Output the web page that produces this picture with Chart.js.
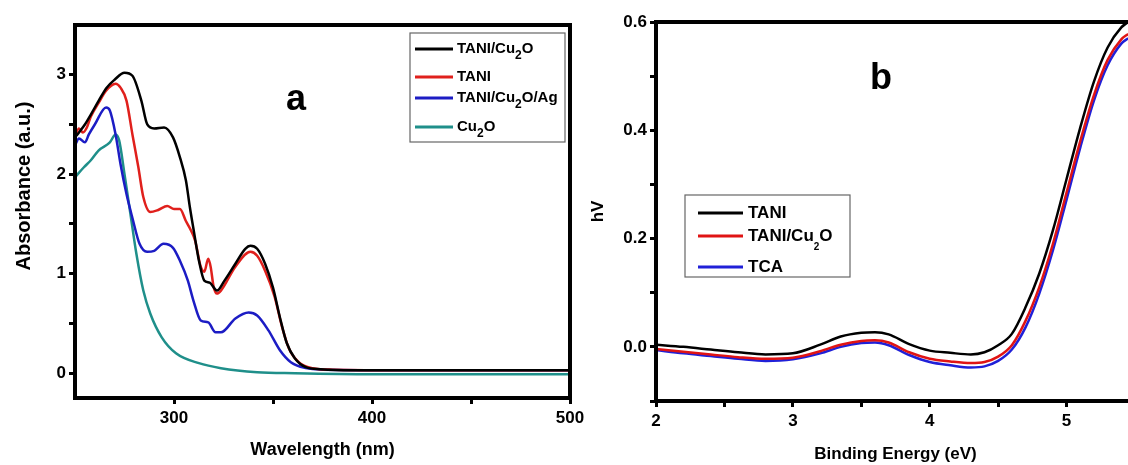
<!DOCTYPE html>
<html>
<head>
<meta charset="utf-8">
<script src="https://cdn.jsdelivr.net/npm/chart.js@4.4.0/dist/chart.umd.min.js"></script>
<style>
  html, body { margin: 0; padding: 0; background: #fff; overflow: hidden; }
  body { width: 1128px; height: 465px; position: relative; }
  canvas { position: absolute; top: 0; }
  #graficoA { left: 0; }
  #graficoB { left: 580px; }
</style>
</head>
<body>
<canvas id="graficoA" width="590" height="465"></canvas>
<canvas id="graficoB" width="570" height="465"></canvas>
<script>
const FONTE = '"Liberation Sans", Arial, sans-serif';

// ---- painel a: absorbância UV-vis ----
const ondaTaniCu2o = [250, 252, 255, 258, 262, 266, 270, 275, 279, 283.5, 286.5, 290, 295, 299.5, 303, 306, 308, 310, 312.6, 315.3, 318, 321.7, 325.5, 331, 336, 338.6, 342, 346, 350, 353.5, 357, 361, 366.6, 374, 390, 420, 450, 480, 500];
const absTaniCu2o = [2.37, 2.42, 2.5, 2.6, 2.74, 2.87, 2.95, 3.02, 2.99, 2.74, 2.5, 2.46, 2.47, 2.37, 2.17, 1.94, 1.67, 1.43, 1.13, 0.93, 0.91, 0.83, 0.93, 1.1, 1.25, 1.28, 1.25, 1.1, 0.86, 0.56, 0.3, 0.15, 0.06, 0.04, 0.03, 0.03, 0.03, 0.03, 0.03];

const ondaTani = [250, 252, 254, 256, 258, 262, 265.7, 270.5, 273, 276, 279, 282, 284.5, 288, 292, 296.6, 300, 303, 306, 308.7, 310.7, 313.5, 315.3, 317.3, 318.5, 320, 321.7, 323.7, 331, 338.6, 342, 346, 350.8, 354.5, 358, 363, 370, 380, 420, 460, 500];
const absTani = [2.38, 2.46, 2.42, 2.47, 2.58, 2.72, 2.84, 2.91, 2.87, 2.74, 2.4, 2.07, 1.77, 1.62, 1.64, 1.68, 1.65, 1.65, 1.53, 1.43, 1.33, 1.07, 1.02, 1.15, 1.07, 0.87, 0.8, 0.83, 1.07, 1.22, 1.18, 1.03, 0.77, 0.47, 0.25, 0.11, 0.05, 0.035, 0.03, 0.03, 0.03];

const ondaTaniAg = [250, 252, 255, 257, 260, 265.7, 267.6, 270.5, 273, 276, 279, 282.6, 286.4, 290, 294.7, 299.5, 303, 307, 309.8, 313.5, 317.3, 321, 323.7, 331, 337.7, 342, 347.7, 353.5, 359, 366.6, 375, 420, 460, 500];
const absTaniAg = [2.29, 2.36, 2.32, 2.4, 2.5, 2.67, 2.64, 2.4, 2.1, 1.8, 1.56, 1.3, 1.22, 1.23, 1.3, 1.26, 1.13, 0.93, 0.73, 0.53, 0.51, 0.41, 0.41, 0.55, 0.61, 0.58, 0.43, 0.23, 0.11, 0.05, 0.035, 0.03, 0.03, 0.03];

const ondaCu2o = [250, 254.5, 258, 262, 267.6, 270.5, 272.3, 275, 278, 281, 284.5, 288, 293.8, 301, 312.6, 323.7, 342, 361, 400, 450, 500];
const absCu2o = [1.97, 2.07, 2.14, 2.24, 2.32, 2.4, 2.34, 2.0, 1.6, 1.2, 0.83, 0.6, 0.36, 0.2, 0.1, 0.05, 0.01, 0.0, -0.01, -0.01, -0.01];

const nomesA = ["TANI/Cu_2O", "TANI", "TANI/Cu_2O/Ag", "Cu_2O"];
const ticksXa = [300, 350, 400, 450, 500];
const rotulosXa = ["300", "", "400", "", "500"];
const ticksYa = [0, 0.5, 1, 1.5, 2, 2.5, 3];
const rotulosYa = ["0", "", "1", "", "2", "", "3"];

// ---- painel b ----
const energia = [2.0, 2.2, 2.4, 2.6, 2.8, 3.0, 3.2, 3.35, 3.5, 3.6, 3.7, 3.85, 4.0, 4.15, 4.3, 4.4, 4.5, 4.6, 4.7, 4.8, 4.9, 5.0, 5.1, 5.2, 5.3, 5.4, 5.45];
const hvTani = [0.004, 0.0, -0.005, -0.01, -0.014, -0.012, 0.004, 0.019, 0.026, 0.027, 0.023, 0.005, -0.007, -0.011, -0.014, -0.01, 0.003, 0.024, 0.073, 0.135, 0.215, 0.31, 0.405, 0.49, 0.553, 0.59, 0.6];
const hvTaniCu2o = [-0.004, -0.009, -0.014, -0.019, -0.022, -0.02, -0.008, 0.004, 0.011, 0.012, 0.008, -0.01, -0.022, -0.027, -0.03, -0.028, -0.018, 0.003, 0.048, 0.11, 0.19, 0.285, 0.38, 0.465, 0.53, 0.568, 0.578];
const hvTca = [-0.006, -0.012, -0.017, -0.022, -0.026, -0.023, -0.012, 0.0, 0.007, 0.008, 0.003, -0.015, -0.028, -0.034, -0.038, -0.036, -0.026, -0.005, 0.036, 0.098, 0.178, 0.272, 0.368, 0.455, 0.52, 0.56, 0.57];

const nomesB = ["TANI", "TANI/Cu_2O", "TCA"];
const ticksXb = [2, 2.5, 3, 3.5, 4, 4.5, 5];
const rotulosXb = ["2", "", "3", "", "4", "", "5"];
const ticksYb = [-0.1, 0, 0.1, 0.2, 0.3, 0.4, 0.5, 0.6];
const rotulosYb = ["", "0.0", "", "0.2", "", "0.4", "", "0.6"];

function pontos(xs, ys) {
  return xs.map((x, i) => ({ x: x, y: ys[i] }));
}

// texto com "_2" virando subscrito
function textoSub(ctx, txt, x, y, tam, tamSub, desce) {
  const partes = txt.split(/_(\d)/);
  let cx = x;
  partes.forEach((p, i) => {
    const sub = i % 2 === 1;
    ctx.font = "bold " + (sub ? tamSub : tam) + "px " + FONTE;
    ctx.fillText(p, cx, sub ? y + desce : y);
    cx += ctx.measureText(p).width;
  });
}

// moldura, legenda, letra do painel
const extras = {
  id: "extras",
  afterDatasetsDraw(chart, args, op) {
    const ctx = chart.ctx;
    const a = chart.chartArea;
    ctx.save();
    ctx.strokeStyle = "#000";
    ctx.lineWidth = 4;
    ctx.strokeRect(a.left, a.top, a.right - a.left, a.bottom - a.top);

    ctx.fillStyle = "#000";
    ctx.textAlign = "center";
    ctx.textBaseline = "middle";
    ctx.font = "bold " + op.letra.tam + "px " + FONTE;
    ctx.fillText(op.letra.texto, op.letra.x, op.letra.y);

    if (op.tituloY) {
      ctx.save();
      ctx.translate(op.tituloY.x, op.tituloY.y);
      ctx.rotate(-Math.PI / 2);
      ctx.font = "bold " + op.tituloY.tam + "px " + FONTE;
      ctx.fillText(op.tituloY.texto, 0, 0);
      ctx.restore();
    }

    const L = op.legenda;
    ctx.lineWidth = 1.2;
    ctx.strokeStyle = "#666";
    ctx.strokeRect(L.x, L.y, L.w, L.h);
    ctx.textAlign = "left";
    chart.data.datasets.forEach((ds, i) => {
      const y = L.linhas[i];
      ctx.strokeStyle = ds.borderColor;
      ctx.lineWidth = 3;
      ctx.beginPath();
      ctx.moveTo(L.x1, y);
      ctx.lineTo(L.x2, y);
      ctx.stroke();
      ctx.fillStyle = "#000";
      textoSub(ctx, ds.label, L.xt, y, L.tam, L.tamSub, L.desce);
    });
    ctx.restore();
  }
};

function eixoX(min, max, ticks, rotulos, altura, titulo, tamTitulo, padTitulo) {
  return {
    type: "linear", min: min, max: max,
    afterBuildTicks: s => { s.ticks = ticks.map(v => ({ value: v })); },
    afterFit: s => { s.height = altura; },
    grid: { drawOnChartArea: false, tickLength: 6, tickWidth: 3, tickColor: "#000" },
    border: { display: false },
    ticks: { autoSkip: false, maxRotation: 0, padding: 4, color: "#000",
      font: { size: 17, weight: "bold" }, callback: (v, i) => rotulos[i] },
    title: { display: true, text: titulo, color: "#000",
      font: { size: tamTitulo, weight: "bold" }, padding: { top: 0, bottom: padTitulo } }
  };
}

function eixoY(min, max, ticks, rotulos, largura, titulo) {
  return {
    type: "linear", min: min, max: max,
    afterBuildTicks: s => { s.ticks = ticks.map(v => ({ value: v })); },
    afterFit: s => { s.width = largura; },
    grid: { drawOnChartArea: false, tickLength: 6, tickWidth: 3, tickColor: "#000" },
    border: { display: false },
    ticks: { autoSkip: false, padding: 3, color: "#000",
      font: { size: 17, weight: "bold" }, callback: (v, i) => rotulos[i] },
    title: titulo
  };
}

Chart.defaults.font.family = FONTE;

new Chart(document.getElementById("graficoA"), {
  type: "line",
  data: {
    datasets: [
      { label: nomesA[0], data: pontos(ondaTaniCu2o, absTaniCu2o), borderColor: "#000000" },
      { label: nomesA[1], data: pontos(ondaTani, absTani), borderColor: "#e0201c" },
      { label: nomesA[2], data: pontos(ondaTaniAg, absTaniAg), borderColor: "#1c1cc4" },
      { label: nomesA[3], data: pontos(ondaCu2o, absCu2o), borderColor: "#1f8f8a" }
    ]
  },
  options: {
    responsive: false,
    animation: false,
    layout: { padding: { top: 25, right: 20, left: 0, bottom: 0 } },
    elements: { point: { radius: 0 }, line: { borderWidth: 2.5, cubicInterpolationMode: "monotone" } },
    plugins: {
      legend: { display: false },
      tooltip: { enabled: false },
      extras: {
        letra: { texto: "a", x: 296, y: 100, tam: 36 },
        tituloY: { texto: "Absorbance (a.u.)", x: 24, y: 186, tam: 20 },
        legenda: { x: 410, y: 33, w: 155, h: 109, x1: 415, x2: 453, xt: 457,
          linhas: [49, 77, 98, 127], tam: 15, tamSub: 12, desce: 7 }
      }
    },
    scales: {
      x: eixoX(250, 500, ticksXa, rotulosXa, 67, "Wavelength (nm)", 18, 4),
      y: eixoY(-0.25, 3.5, ticksYa, rotulosYa, 75, { display: false })
    }
  },
  plugins: [extras]
});

new Chart(document.getElementById("graficoB"), {
  type: "line",
  data: {
    datasets: [
      { label: nomesB[0], data: pontos(energia, hvTani), borderColor: "#000000" },
      { label: nomesB[1], data: pontos(energia, hvTaniCu2o), borderColor: "#e01414" },
      { label: nomesB[2], data: pontos(energia, hvTca), borderColor: "#2020d8" }
    ]
  },
  options: {
    responsive: false,
    animation: false,
    layout: { padding: { top: 22, right: 15, left: 0, bottom: 0 } },
    elements: { point: { radius: 0 }, line: { borderWidth: 2.5, cubicInterpolationMode: "monotone" } },
    plugins: {
      legend: { display: false },
      tooltip: { enabled: false },
      extras: {
        letra: { texto: "b", x: 301, y: 79, tam: 36 },
        legenda: { x: 105, y: 195, w: 165, h: 82, x1: 118, x2: 163, xt: 168,
          linhas: [213, 236, 267], tam: 17, tamSub: 10, desce: 11 }
      }
    },
    scales: {
      x: eixoX(2, 5.5, ticksXb, rotulosXb, 64, "Binding Energy (eV)", 17, 0),
      y: eixoY(-0.1, 0.6, ticksYb, rotulosYb, 76,
        { display: true, text: "hV", color: "#000", font: { size: 17, weight: "bold" }, padding: { top: 8, bottom: 0 } })
    }
  },
  plugins: [extras]
});
</script>
</body>
</html>
